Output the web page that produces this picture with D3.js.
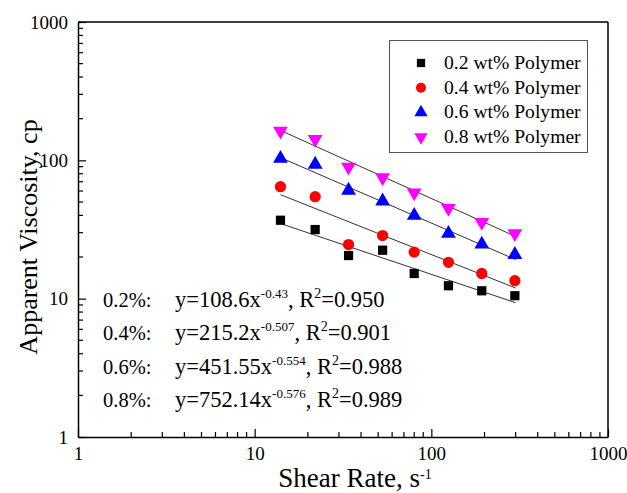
<!DOCTYPE html>
<html><head><meta charset="utf-8">
<script src="https://cdn.jsdelivr.net/npm/d3@7"></script>
<style>body{margin:0;background:#fff}svg{display:block}</style>
</head><body>
<script>
const shearRate = [14, 22, 34, 53, 80, 125, 193, 297];
const series = ["0.2 wt% Polymer","0.4 wt% Polymer","0.6 wt% Polymer","0.8 wt% Polymer"];
const visc02 = [36.9, 31.6, 20.5, 22.4, 15.2, 12.4, 11.4, 10.5];
const visc04 = [64.5, 54.6, 24.6, 28.6, 21.7, 18.3, 15.2, 13.5];
const visc06 = [103, 93.5, 60.6, 50.7, 39.9, 29.6, 24.7, 20.8];
const visc08 = [163, 142, 89.4, 75, 58.3, 45.1, 35.7, 29.6];
const fitA = [108.6, 215.2, 451.55, 752.14];
const fitB = [-0.43, -0.507, -0.554, -0.576];
const fitR2 = ["0.950", "0.901", "0.988", "0.989"];
const fitLabel = ["0.2%:", "0.4%:", "0.6%:", "0.8%:"];
const fitRange = [14, 300];
const xTicks = [1, 10, 100, 1000];
const yTicks = [1, 10, 100, 1000];
const colors = ["#000000", "#ff0000", "#0000ff", "#ff00ff"];
const shapes = [d3.symbolSquare, d3.symbolCircle, d3.symbolTriangle, d3.symbolTriangle];
const FONT = "Liberation Serif, Times New Roman, serif";

const W = 627, H = 493;
const m = {l: 78, r: 608, t: 22, b: 437};
const svg = d3.select("body").append("svg").attr("width", W).attr("height", H)
  .attr("font-family", FONT).style("font-family", FONT);
const x = d3.scaleLog().domain([1, 1000]).range([m.l, m.r]);
const y = d3.scaleLog().domain([1, 1000]).range([m.b, m.t]);

const minors = [];
for (let d = 1; d < 1000; d *= 10) for (let k = 2; k <= 9; k++) minors.push(d * k);

const gx = svg.append("g").attr("transform", `translate(0,${m.b})`);
gx.call(d3.axisBottom(x).tickValues(xTicks).tickFormat(d3.format("d")).tickSizeInner(-8).tickSizeOuter(0).tickPadding(10));
gx.selectAll(".minor").data(minors).enter().append("line").attr("x1", d => x(d)).attr("x2", d => x(d)).attr("y1", 0).attr("y2", -5).attr("stroke", "#000").attr("stroke-width", 1.2);
const gy = svg.append("g").attr("transform", `translate(${m.l},0)`);
gy.call(d3.axisLeft(y).tickValues(yTicks).tickFormat(d3.format("d")).tickSizeInner(-8).tickSizeOuter(0).tickPadding(10));
gy.selectAll(".minor").data(minors).enter().append("line").attr("y1", d => y(d)).attr("y2", d => y(d)).attr("x1", 0).attr("x2", 5).attr("stroke", "#000").attr("stroke-width", 1.2);
svg.selectAll("g").attr("font-family", FONT);
svg.selectAll(".domain").attr("stroke", "#000").attr("stroke-width", 1.5);
svg.selectAll(".tick line").attr("stroke", "#000").attr("stroke-width", 1.2);
svg.selectAll(".tick text").attr("font-size", 19).attr("fill", "#000").style("font-family", FONT);
svg.append("line").attr("x1", m.l).attr("x2", m.r).attr("y1", m.t).attr("y2", m.t).attr("stroke", "#000").attr("stroke-width", 1.5);
svg.append("line").attr("x1", m.r).attr("x2", m.r).attr("y1", m.t).attr("y2", m.b).attr("stroke", "#000").attr("stroke-width", 1.5);

fitA.forEach((a, i) => {
  svg.append("line")
    .attr("x1", x(fitRange[0])).attr("y1", y(a * Math.pow(fitRange[0], fitB[i])))
    .attr("x2", x(fitRange[1])).attr("y2", y(a * Math.pow(fitRange[1], fitB[i])))
    .attr("stroke", "#333").attr("stroke-width", 1);
});

const allVals = [visc02, visc04, visc06, visc08];
const sizes = [85, 100, 95, 95];
allVals.forEach((vals, i) => {
  svg.append("g").selectAll("path").data(vals).enter().append("path")
    .attr("d", d3.symbol().type(shapes[i]).size(sizes[i]))
    .attr("transform", (d, j) => `translate(${x(shearRate[j])},${y(d)})` + (i === 3 ? " rotate(180)" : ""))
    .attr("fill", colors[i]);
});

svg.append("rect").attr("x", 389.5).attr("y", 40.5).attr("width", 198).attr("height", 112).attr("fill", "#fff").attr("stroke", "#555").attr("stroke-width", 1);
series.forEach((s, i) => {
  const yy = 63 + i * 24.7;
  svg.append("path").attr("d", d3.symbol().type(shapes[i]).size(sizes[i] * 0.8))
    .attr("transform", `translate(421,${yy})` + (i === 3 ? " rotate(180)" : "")).attr("fill", colors[i]);
  svg.append("text").attr("x", 444).attr("y", yy + 6).attr("font-size", 19.6).style("font-family", FONT).text(s);
});

fitA.forEach((a, i) => {
  const yy = 307 + i * 33.3;
  svg.append("text").attr("x", 103).attr("y", yy).attr("font-size", 20.5).style("font-family", FONT).text(fitLabel[i]);
  const t = svg.append("text").attr("x", 175).attr("y", yy).attr("font-size", 22.5).style("font-family", FONT);
  t.append("tspan").text("y=" + a + "x");
  t.append("tspan").attr("dy", -9).attr("font-size", 13).text(fitB[i]);
  t.append("tspan").attr("dy", 9).text(", R");
  t.append("tspan").attr("dy", -9).attr("font-size", 14).text("2");
  t.append("tspan").attr("dy", 9).text("=" + fitR2[i]);
});

const xt = svg.append("text").attr("x", 355).attr("y", 487).attr("text-anchor", "middle").attr("font-size", 27).style("font-family", FONT);
xt.append("tspan").text("Shear Rate, s");
xt.append("tspan").attr("dy", -8).attr("font-size", 14).text("-1");
svg.append("text").attr("transform", `translate(37,237) rotate(-90)`).attr("text-anchor", "middle").attr("font-size", 26).style("font-family", FONT).text("Apparent Viscosity, cp");
</script>
</body></html>
